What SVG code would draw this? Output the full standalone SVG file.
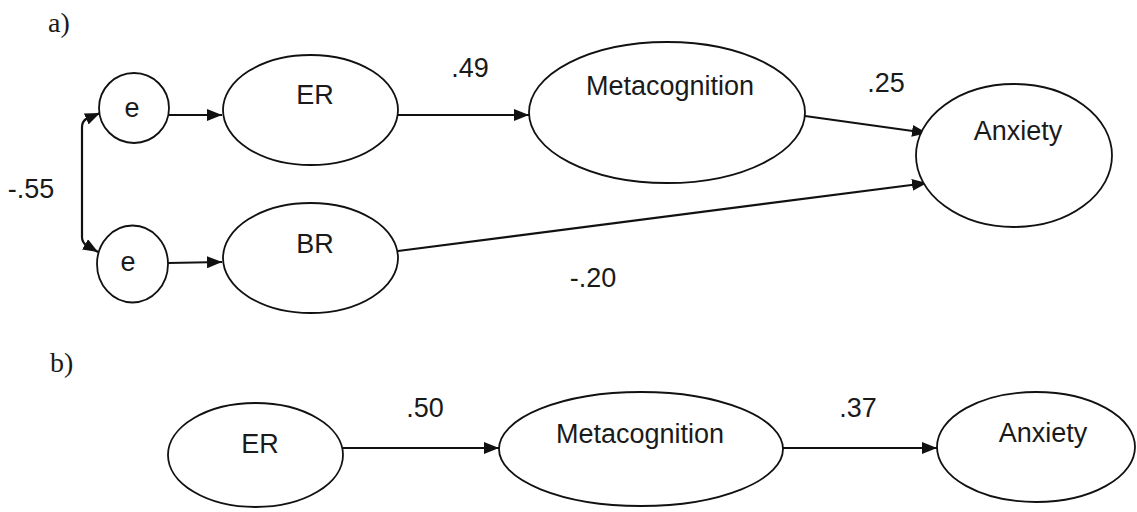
<svg xmlns="http://www.w3.org/2000/svg" width="1137" height="512" viewBox="0 0 1137 512">
<style>
.n{fill:#fff;stroke:#111;stroke-width:1.8}
.t{font-family:"Liberation Sans",Arial,Helvetica,sans-serif;font-size:27px;fill:#1a1a1a;text-anchor:middle}
.p{font-family:"Liberation Serif","Times New Roman",serif;font-size:28px;fill:#1a1a1a}
.c{fill:none;stroke:#111;stroke-width:2.2}
</style>
<defs>
<marker id="ah" markerUnits="userSpaceOnUse" markerWidth="15" markerHeight="12" refX="15" refY="6" orient="auto-start-reverse">
<path d="M0,0 L15,6 L0,12 z" fill="#111"/>
</marker>
</defs>
<text class="p" x="48" y="32">a)</text>
<text class="p" x="50" y="372">b)</text>
<g id="connectors">
<path class="c" d="M98,252 L86,245 Q82,242 82,237 L82,127 Q82,122 86,119 L100,113" marker-start="url(#ah)" marker-end="url(#ah)"/>
<line class="c" x1="168" y1="115" x2="222" y2="115" marker-end="url(#ah)"/>
<line class="c" x1="168" y1="263" x2="222" y2="262" marker-end="url(#ah)"/>
<line class="c" x1="398" y1="115" x2="529" y2="115" marker-end="url(#ah)"/>
<line class="c" x1="805" y1="116" x2="927" y2="133" marker-end="url(#ah)"/>
<line class="c" x1="398" y1="251" x2="927" y2="183" marker-end="url(#ah)"/>
<line class="c" x1="343" y1="448" x2="499" y2="448" marker-end="url(#ah)"/>
<line class="c" x1="783" y1="448" x2="937" y2="448" marker-end="url(#ah)"/>
<text class="t" x="31" y="198">-.55</text>
<text class="t" x="470" y="77">.49</text>
<text class="t" x="886" y="92">.25</text>
<text class="t" x="593" y="287">-.20</text>
<text class="t" x="425" y="417">.50</text>
<text class="t" x="858" y="417">.37</text>
</g>
<g id="e1"><circle class="n" cx="134" cy="108" r="35"/><text class="t" x="132" y="117">e</text></g>
<g id="e2"><ellipse class="n" cx="132.5" cy="264" rx="35.5" ry="38.5"/><text class="t" x="128" y="271">e</text></g>
<g id="er-a"><ellipse class="n" cx="310.5" cy="110" rx="87.5" ry="55"/><text class="t" x="315" y="104">ER</text></g>
<g id="br-a"><ellipse class="n" cx="310.5" cy="258" rx="87.5" ry="55"/><text class="t" x="315" y="253">BR</text></g>
<g id="meta-a"><ellipse class="n" cx="667" cy="112.5" rx="138" ry="70.5"/><text class="t" x="670" y="95">Metacognition</text></g>
<g id="anx-a"><ellipse class="n" cx="1014" cy="155.5" rx="98" ry="71.5"/><text class="t" x="1018" y="140">Anxiety</text></g>
<g id="er-b"><ellipse class="n" cx="255.5" cy="455" rx="87.5" ry="52"/><text class="t" x="260" y="453">ER</text></g>
<g id="meta-b"><ellipse class="n" cx="641" cy="449" rx="142" ry="57"/><text class="t" x="640" y="443">Metacognition</text></g>
<g id="anx-b"><ellipse class="n" cx="1036" cy="447" rx="99" ry="55"/><text class="t" x="1043" y="442">Anxiety</text></g>
</svg>
